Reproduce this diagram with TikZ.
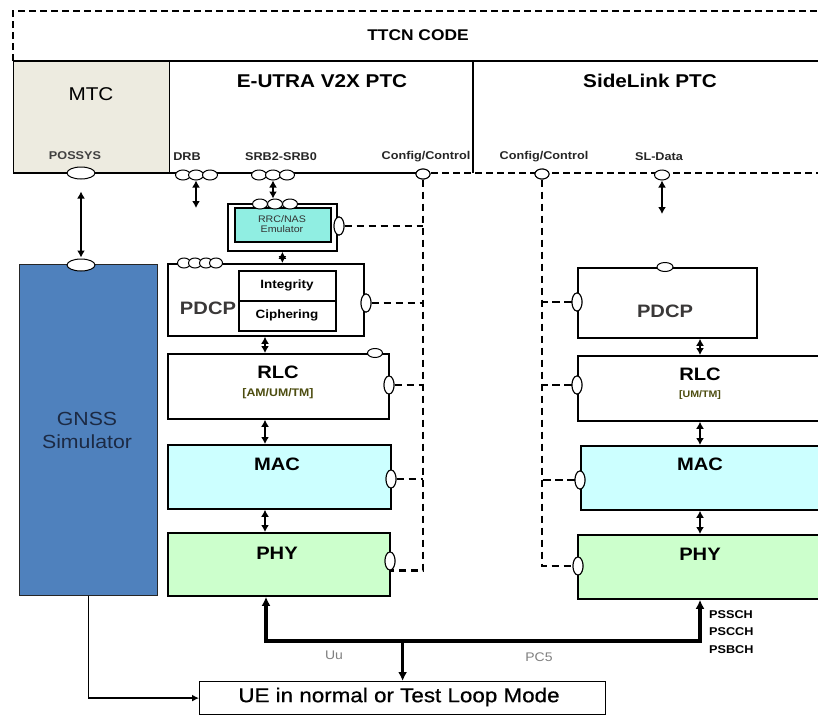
\documentclass[tikz,border=0pt]{standalone}
\usepackage{fontspec}
\usepackage{graphicx}
\setmainfont{Liberation Sans}
\newfontfamily\uefont[FakeBold=0.6]{Liberation Sans}
\usetikzlibrary{shapes.geometric,arrows.meta}
\definecolor{mtcbg}{HTML}{EDEBE0}
\definecolor{gnssbg}{HTML}{4F81BD}
\definecolor{gnsstxt}{HTML}{1C2A44}
\definecolor{rrcbg}{HTML}{90EEE2}
\definecolor{macbg}{HTML}{CCFFFF}
\definecolor{phybg}{HTML}{CCFFCC}
\definecolor{olivetxt}{HTML}{4D4D10}
\definecolor{pdcptxt}{HTML}{3A3838}
\newcommand{\hs}[1]{\scalebox{1.12}[1]{#1}}
\newcommand{\fsz}[1]{\fontsize{#1}{#1}\selectfont}
\begin{document}
\begin{tikzpicture}[x=1pt,y=-1pt,
  box/.style={draw, line width=1.8pt, inner sep=0pt, anchor=north west},
  hport/.style={ellipse, draw, fill=white, line width=1pt, minimum width=15pt, minimum height=10pt, inner sep=0pt},
  vport/.style={ellipse, draw, fill=white, line width=1pt, minimum width=10pt, minimum height=18pt, inner sep=0pt},
  ctl/.style={line width=2.2pt, dash pattern=on 7.5pt off 4.5pt},
  frame/.style={line width=1.5pt, dash pattern=on 7pt off 4pt},
  dbl/.style={line width=2pt, {Latex[length=7pt,width=8pt]}-{Latex[length=7pt,width=8pt]}},
  bus/.style={line width=3.6pt},
  lbl/.style={font=\fsz{11.3}\bfseries, text=black!85, inner sep=0pt},
  layertxt/.style={font=\fsz{18}\bfseries, inner sep=0pt},
]
\useasboundingbox (0,0) rectangle (818,715);
\clip (0,0) rectangle (818,715);

% ---------- TTCN frame ----------
\node[fill=mtcbg, draw=black, line width=0.8pt, minimum width=156pt, minimum height=112pt, inner sep=0pt, anchor=north west] (mtc) at (13,61) {};
\draw[frame] (13,61) -- (13,11) -- (830,11);
\draw[line width=1.8pt] (13,61) -- (830,61);
\draw[line width=1.8pt] (13,173) -- (420,173);
\draw[frame] (13,173) -- (830,173);
\draw[line width=1.8pt] (473,61) -- (473,173);

\node[font=\fsz{15.5}\bfseries, inner sep=0pt] (ttcn) at (418,35) {\hs{TTCN CODE}};
\node[font=\fsz{18.5}, inner sep=0pt] (mtctxt) at (91,94) {\hs{MTC}};
\node[font=\fsz{18.5}\bfseries, inner sep=0pt] (eutra) at (322,81) {\hs{E-UTRA V2X PTC}};
\node[font=\fsz{18.5}\bfseries, inner sep=0pt] (sidelink) at (650,81) {\hs{SideLink PTC}};

\node[lbl, text=black!75] (possysl) at (75,156) {\hs{POSSYS}};
\node[lbl] (drbl) at (187,157) {\hs{DRB}};
\node[lbl] (srbl) at (281,157) {\hs{SRB2-SRB0}};
\node[lbl] (cfgLl) at (426,157) {\hs{Config/Control}};
\node[lbl] (cfgRl) at (544,157) {\hs{Config/Control}};
\node[lbl] (sldl) at (659,157) {\hs{SL-Data}};

% ---------- GNSS ----------
\node[box, fill=gnssbg, line width=1pt, draw=black!85, minimum width=138pt, minimum height=331pt] (gnss) at (19,264) {};
\node[font=\fsz{19}, text=gnsstxt, align=center, inner sep=0pt] (gnsstxt) at (87,430) {\hs{GNSS}\\[4pt]\hs{Simulator}};

% ---------- Left stack ----------
\node[box, minimum width=109pt, minimum height=47pt] (rrcOut) at (227,203) {};
\node[box, fill=rrcbg, minimum width=96pt, minimum height=34pt] (rrc) at (234,207) {};
\node[font=\fsz{9.5}, text=black!80, align=center, inner sep=0pt] (rrctxt) at (282,224) {\hs{RRC/NAS}\\[1pt]\hs{Emulator}};

\node[box, minimum width=196pt, minimum height=72pt] (pdcpL) at (167,263) {};
\node[box, minimum width=97pt, minimum height=30pt] (integ) at (238,270) {};
\node[box, minimum width=97pt, minimum height=30pt] (ciph) at (238,300) {};
\node[font=\fsz{12}\bfseries, inner sep=0pt] (integt) at (287,285) {\hs{Integrity}};
\node[font=\fsz{12}\bfseries, inner sep=0pt] (ciphtxt) at (287,315) {\hs{Ciphering}};
\node[layertxt, text=pdcptxt] (pdcpLt) at (208,308) {\hs{PDCP}};

\node[box, minimum width=221pt, minimum height=65pt] (rlcL) at (167,353) {};
\node[layertxt] (rlcLt) at (278,372) {\hs{RLC}};
\node[font=\fsz{11}\bfseries, text=olivetxt, inner sep=0pt] (rlcLm) at (278,394) {\hs{[AM/UM/TM]}};

\node[box, fill=macbg, minimum width=223pt, minimum height=64pt] (macL) at (167,444) {};
\node[layertxt] (macLt) at (277,464) {\hs{MAC}};

\node[box, fill=phybg, minimum width=222pt, minimum height=63pt] (phyL) at (167,532) {};
\node[layertxt] (phyLt) at (277,553) {\hs{PHY}};

% ---------- Right stack ----------
\node[box, minimum width=179pt, minimum height=70pt] (pdcpR) at (577,267) {};
\node[layertxt, text=pdcptxt] (pdcpRt) at (665,311) {\hs{PDCP}};

\node[box, minimum width=260pt, minimum height=65pt] (rlcR) at (577,355) {};
\node[layertxt] (rlcRt) at (700,374) {\hs{RLC}};
\node[font=\fsz{9.5}\bfseries, text=olivetxt, inner sep=0pt] (rlcRm) at (700,395) {\hs{[UM/TM]}};

\node[box, fill=macbg, minimum width=260pt, minimum height=64pt] (macR) at (580,445) {};
\node[layertxt] (macRt) at (700,464) {\hs{MAC}};

\node[box, fill=phybg, minimum width=260pt, minimum height=64pt] (phyR) at (577,534) {};
\node[layertxt] (phyRt) at (700,554) {\hs{PHY}};

% ---------- UE ----------
\node[box, line width=1.2pt, minimum width=406pt, minimum height=33pt] (ue) at (199,681) {};
\node[font=\fsz{20}\uefont, inner sep=0pt] (uet) at (399,697) {\hs{UE in normal or Test Loop Mode}};

% ---------- control lines (dashed) ----------
\coordinate (cxL) at (423,0);
\coordinate (cxR) at (541,0);
\node[hport, minimum width=14pt] (cfgL) at (423,174) {};
\node[hport, minimum width=14pt] (cfgR) at (542,174) {};
\node[vport] (rrcP) at (339,226) {};
\node[vport] (pdcpLp) at (366,303) {};
\node[vport] (rlcLp) at (389,385) {};
\node[vport] (macLp) at (391,479) {};
\node[vport] (phyLp) at (390,561) {};
\node[vport] (pdcpRp) at (577,302) {};
\node[vport] (rlcRp) at (577,385) {};
\node[vport] (macRp) at (580,480) {};
\node[vport] (phyRp) at (578,566) {};

\draw[ctl] (cfgL.south) -- (cfgL.south |- phyLp.south) -- (phyLp.south);
\draw[ctl] (rrcP.east) -- (rrcP.east -| cxL);
\draw[ctl] (pdcpLp.east) -- (pdcpLp.east -| cxL);
\draw[ctl] (rlcLp.east) -- (rlcLp.east -| cxL);
\draw[ctl] (macLp.east) -- (macLp.east -| cxL);

\draw[ctl] (cfgR.south) -- (cfgR.south |- phyRp.west) -- (phyRp.west);
\draw[ctl] (pdcpRp.west) -- (pdcpRp.west -| cxR);
\draw[ctl] (rlcRp.west) -- (rlcRp.west -| cxR);
\draw[ctl] (macRp.west) -- (macRp.west -| cxR);

% redraw ports on top
\node[hport, minimum width=14pt] at (cfgL) {};
\node[hport, minimum width=14pt] at (cfgR) {};
\foreach \p in {rrcP,pdcpLp,rlcLp,macLp,phyLp,pdcpRp,rlcRp,macRp,phyRp}{\node[vport] at (\p) {};}

% ---------- other ports ----------
\node[hport, minimum width=28pt, minimum height=12pt] (possys) at (81,173) {};
\node[hport, minimum width=28pt, minimum height=12pt] (gnssP) at (81,265) {};
\node[hport] (drb1) at (183,175) {};
\node[hport] (drb2) at (196,175) {};
\node[hport] (drb3) at (210,175) {};
\node[hport] (srb1) at (259,175) {};
\node[hport] (srb2) at (273,175) {};
\node[hport] (srb3) at (287,175) {};
\node[hport] (sld) at (662,175) {};
\node[hport] (rrcT1) at (260,204) {};
\node[hport] (rrcT2) at (275,204) {};
\node[hport] (rrcT3) at (290,204) {};
\node[hport, minimum width=13pt] (pdT1) at (184,263) {};
\node[hport, minimum width=13pt] (pdT2) at (195,263) {};
\node[hport, minimum width=13pt] (pdT3) at (206,263) {};
\node[hport, minimum width=13pt] (pdT4) at (216,263) {};
\node[hport, minimum height=9pt] (rlcT) at (375,353) {};
\node[hport, minimum width=16pt, minimum height=9pt] (pdcpRT) at (665,267) {};

% ---------- data arrows ----------
\coordinate (drbEnd) at (196,208);
\coordinate (sldEnd) at (662,214);
\coordinate (colL) at (265,0);
\coordinate (colR) at (700,0);
\draw[dbl, shorten <=12pt, shorten >=1pt] (possys.south) -- (gnssP.north);
\draw[dbl] (drb2.south) -- (drbEnd);
\draw[dbl] (srb2.south) -- (srb2.south |- rrcT2.north);
\draw[dbl] (rrcOut.south) -- (rrcOut.south |- pdcpL.north);
\draw[dbl] (pdcpL.south -| colL) -- (rlcL.north -| colL);
\draw[dbl] (rlcL.south -| colL) -- (macL.north -| colL);
\draw[dbl] (macL.south -| colL) -- (phyL.north -| colL);
\draw[dbl] (sld.south) -- (sldEnd);
\draw[dbl] (pdcpR.south -| colR) -- (rlcR.north -| colR);
\draw[dbl] (rlcR.south -| colR) -- (macR.north -| colR);
\draw[dbl] (macR.south -| colR) -- (phyR.north -| colR);

% ---------- bus ----------
\coordinate (busL) at (266,641);
\coordinate (busR) at (700,641);
\draw[bus, {Latex[length=9pt,width=9pt]}-{Latex[length=9pt,width=9pt]}] (phyL.south -| busL) -- (busL) -- (busR) -- (phyR.south -| busR);
\draw[bus, -{Latex[length=9pt,width=9pt]}] (ue.north |- busL) -- (ue.north);
\draw[line width=1.5pt, -{Latex[length=7pt,width=7pt]}] (gnss.south) |- (ue.west);

\node[font=\fsz{12.5}, text=black!50, inner sep=0pt] (uu) at (334,655) {\hs{Uu}};
\node[font=\fsz{12.5}, text=black!50, inner sep=0pt] (pc5) at (539,657) {\hs{PC5}};
\node[font=\fsz{11.3}\bfseries, anchor=west, inner sep=0pt] (pssch) at (709,615) {\hs{PSSCH}};
\node[font=\fsz{11.3}\bfseries, anchor=west, inner sep=0pt] (pscch) at (709,632) {\hs{PSCCH}};
\node[font=\fsz{11.3}\bfseries, anchor=west, inner sep=0pt] (psbch) at (709,650) {\hs{PSBCH}};
\end{tikzpicture}
\end{document}
